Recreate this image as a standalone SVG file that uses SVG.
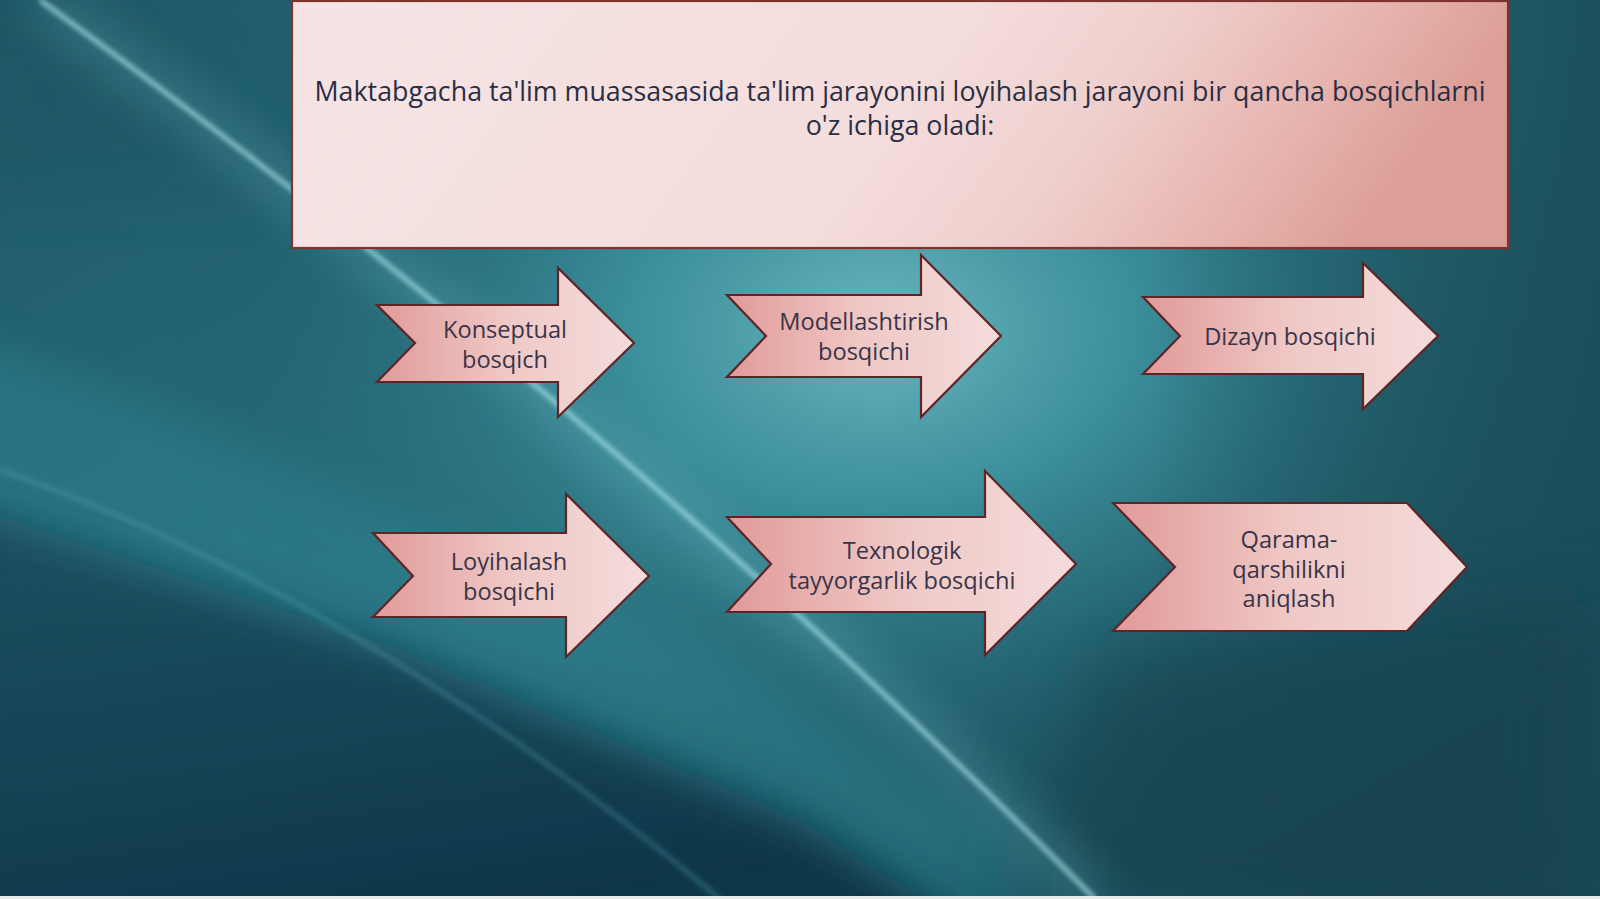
<svg xmlns="http://www.w3.org/2000/svg" width="1600" height="899" viewBox="0 0 1600 899">
<defs>
<style>
.arrow{stroke:#5e2426;stroke-width:2.2;stroke-linejoin:miter;fill:url(#ag)}
.lbl{font-family:"Open Sans","Noto Sans","DejaVu Sans",sans-serif;font-size:23.6px;fill:#3a3448;text-anchor:middle}
.ttl{font-family:"Open Sans","Noto Sans","DejaVu Sans",sans-serif;font-size:26.8px;fill:#2a2e44;text-anchor:middle}
</style>
<linearGradient id="bg" x1="0" y1="0" x2="1" y2="1">
<stop offset="0" stop-color="#1f5866"/>
<stop offset="0.5" stop-color="#2a7280"/>
<stop offset="1" stop-color="#153f4c"/>
</linearGradient>
<radialGradient id="glow" cx="880" cy="330" r="720" gradientUnits="userSpaceOnUse" gradientTransform="translate(880 330) scale(1 0.7) translate(-880 -330)">
<stop offset="0" stop-color="#6ab6be" stop-opacity="1"/>
<stop offset="0.35" stop-color="#3f94a1" stop-opacity="0.85"/>
<stop offset="1" stop-color="#1c5260" stop-opacity="0"/>
</radialGradient>
<linearGradient id="dark" x1="0" y1="0" x2="0.3" y2="1">
<stop offset="0" stop-color="#12384b" stop-opacity="0.6"/>
<stop offset="1" stop-color="#0f3446" stop-opacity="1"/>
</linearGradient>
<linearGradient id="rdark" x1="0" y1="0" x2="1" y2="0">
<stop offset="0" stop-color="#1a4d5a" stop-opacity="0"/>
<stop offset="1" stop-color="#1a4d5a" stop-opacity="0.9"/>
</linearGradient>
<linearGradient id="ag" x1="0" y1="0" x2="1" y2="0">
<stop offset="0" stop-color="#e09a98"/>
<stop offset="0.5" stop-color="#efc8c6"/>
<stop offset="1" stop-color="#f4dcdb"/>
</linearGradient>
<linearGradient id="tg" x1="0" y1="0" x2="1" y2="0.15">
<stop offset="0" stop-color="#f6e4e4"/>
<stop offset="0.55" stop-color="#f4dddc"/>
<stop offset="0.72" stop-color="#efcfcd"/>
<stop offset="0.86" stop-color="#e8b7b2"/>
<stop offset="1" stop-color="#dc9f97"/>
</linearGradient>
<filter id="b3" x="-10%" y="-10%" width="120%" height="120%"><feGaussianBlur stdDeviation="2.5"/></filter>
<filter id="b20" x="-20%" y="-20%" width="140%" height="140%"><feGaussianBlur stdDeviation="22"/></filter>
<filter id="b40" x="-20%" y="-20%" width="140%" height="140%"><feGaussianBlur stdDeviation="40"/></filter>
</defs>

<g id="background">
<rect x="0" y="0" width="1600" height="899" fill="url(#bg)"/>
<rect x="0" y="0" width="1600" height="899" fill="url(#glow)"/>
<rect x="1150" y="0" width="450" height="899" fill="url(#rdark)"/>
<path d="M-50 330 L300 470 L700 640 L1120 899 L1600 950 L1600 1000 L-50 1000 Z" fill="#2f8594" opacity="0.45" filter="url(#b20)"/>
<path d="M-50 500 L400 650 L800 820 L1000 950 L-50 1000 Z" fill="url(#dark)" filter="url(#b20)"/>
<path d="M-50 -50 L40 -20 L300 180 L-50 200 Z" fill="#1d5564" opacity="0.6" filter="url(#b40)"/>
<path d="M1100 650 L1600 600 L1600 950 L1000 950 Z" fill="#143f4b" opacity="0.6" filter="url(#b40)"/>
<path d="M40 0 Q620 420 1095 899" fill="none" stroke="#7fc9d1" stroke-width="36" opacity="0.25" filter="url(#b20)"/>
<path d="M40 0 Q620 420 1095 899" fill="none" stroke="#a6e2e8" stroke-width="5" opacity="0.75" filter="url(#b3)"/>
<path d="M0 470 Q350 590 720 899" fill="none" stroke="#5fb0bb" stroke-width="5" opacity="0.3" filter="url(#b3)"/>
<rect x="0" y="896" width="1600" height="3" fill="#e8ecec"/>
</g>

<g id="title">
<rect x="292" y="1" width="1216" height="247" fill="url(#tg)" stroke="#7e342e" stroke-width="2.2"/>
<text class="ttl" x="900" y="101">Maktabgacha ta'lim muassasasida ta'lim jarayonini loyihalash jarayoni bir qancha bosqichlarni</text>
<text class="ttl" x="900" y="135">o'z ichiga oladi:</text>
</g>

<g id="connectors"></g>

<g id="node-konseptual">
<path class="arrow" d="M377 305 L558 305 L558 268 L634 343 L558 417 L558 382 L377 382 L415 343 Z"/>
<text class="lbl" x="505" y="338">Konseptual</text>
<text class="lbl" x="505" y="368">bosqich</text>
</g>

<g id="node-modellashtirish">
<path class="arrow" d="M727 295 L921 295 L921 255 L1001 336 L921 417 L921 377 L727 377 L766 336 Z"/>
<text class="lbl" x="864" y="330">Modellashtirish</text>
<text class="lbl" x="864" y="360">bosqichi</text>
</g>

<g id="node-dizayn">
<path class="arrow" d="M1143 297 L1363 297 L1363 263 L1438 336 L1363 409 L1363 374 L1143 374 L1180 336 Z"/>
<text class="lbl" x="1290" y="345">Dizayn bosqichi</text>
</g>

<g id="node-loyihalash">
<path class="arrow" d="M373 533 L566 533 L566 494 L649 576 L566 657 L566 617 L373 617 L413 576 Z"/>
<text class="lbl" x="509" y="570">Loyihalash</text>
<text class="lbl" x="509" y="600">bosqichi</text>
</g>

<g id="node-texnologik">
<path class="arrow" d="M727 517 L985 517 L985 471 L1076 564 L985 655 L985 612 L727 612 L771 564 Z"/>
<text class="lbl" x="902" y="559">Texnologik</text>
<text class="lbl" x="902" y="589">tayyorgarlik bosqichi</text>
</g>

<g id="node-qarama">
<path class="arrow" d="M1113 503 L1407 503 L1467 567 L1407 631 L1113 631 L1175 567 Z"/>
<text class="lbl" x="1289" y="548">Qarama-</text>
<text class="lbl" x="1289" y="578">qarshilikni</text>
<text class="lbl" x="1289" y="607">aniqlash</text>
</g>
</svg>
